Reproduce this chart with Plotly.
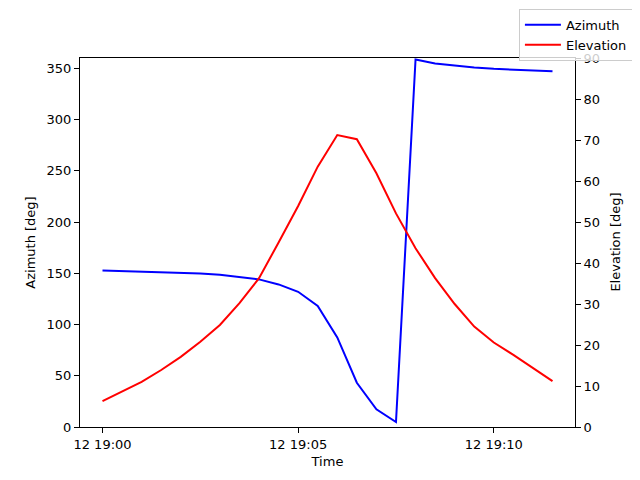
import pandas as pd
import plotly.graph_objects as go

# ─────────────────────────────────────────
# DONNÉES (lues sur le graphique, pas de 30 s)
# ─────────────────────────────────────────
times = pd.date_range("2024-01-12 19:00:00", periods=24, freq="30s")

azimuth = [152.8, 152.3, 151.9, 151.4, 150.8, 149.8, 148.5, 146.5, 144.0, 139.1,
           131.9, 118.0, 87.4, 43.2, 17.2, 4.9, 358.5, 354.6, 352.3, 350.7,
           349.4, 348.4, 347.7, 347.1]

elevation = [6.3, 8.6, 11.0, 13.9, 17.1, 20.8, 24.9, 30.2, 36.3, 45.0,
             53.9, 63.5, 71.2, 70.2, 61.9, 52.1, 43.6, 36.3, 30.0, 24.5,
             20.6, 17.6, 14.3, 11.2]

x_tick_vals = ["2024-01-12 19:00:00", "2024-01-12 19:05:00", "2024-01-12 19:10:00"]
x_tick_text = ["12 19:00", "12 19:05", "12 19:10"]
az_ticks = [0, 50, 100, 150, 200, 250, 300, 350]
el_ticks = [0, 10, 20, 30, 40, 50, 60, 70, 80, 90]

# marge de 5 % comme matplotlib
span = times[-1] - times[0]
x_range = [times[0] - span * 0.05, times[-1] + span * 0.05]

FONT = dict(family="DejaVu Sans", size=13, color="black")

fig = go.Figure()

fig.add_trace(go.Scatter(
    x=times, y=azimuth, name="Azimuth", mode="lines",
    line=dict(color="blue", width=2), yaxis="y"
))
fig.add_trace(go.Scatter(
    x=times, y=elevation, name="Elevation", mode="lines",
    line=dict(color="red", width=2), yaxis="y2"
))

axis_common = dict(
    showline=True, linecolor="black", linewidth=1,
    ticks="outside", ticklen=5, tickcolor="black",
    showgrid=False, zeroline=False, tickfont=FONT,
)

# la page ajoute 8 px de marge autour du graphique : on compense
fig.update_layout(
    width=640, height=480,
    margin=dict(l=72, r=73, t=50, b=61, autoexpand=False),
    paper_bgcolor="white", plot_bgcolor="white",
    font=FONT,
    xaxis=dict(
        **axis_common, mirror=True, range=x_range,
        tickvals=x_tick_vals, ticktext=x_tick_text,
        title=dict(text="Time", font=FONT, standoff=6),
    ),
    yaxis=dict(
        **axis_common, range=[0, 360], tickvals=az_ticks,
        title=dict(text="Azimuth [deg]", font=FONT, standoff=8),
    ),
    yaxis2=dict(
        **axis_common, range=[0, 90], tickvals=el_ticks,
        overlaying="y", side="right",
    ),
    legend=dict(
        x=1.117, y=1.133, xanchor="right", yanchor="top",
        bgcolor="rgba(255,255,255,0.8)", bordercolor="#cccccc", borderwidth=1,
        font=FONT, tracegroupgap=0, itemwidth=36,
    ),
    showlegend=True,
)

# titre de l'axe de droite (placé à la main)
fig.add_annotation(
    text="Elevation [deg]", xref="paper", yref="paper",
    x=1.081, y=0.5, textangle=-90, showarrow=False,
    xanchor="center", yanchor="middle", font=FONT,
)

fig.write_html("out.html")
